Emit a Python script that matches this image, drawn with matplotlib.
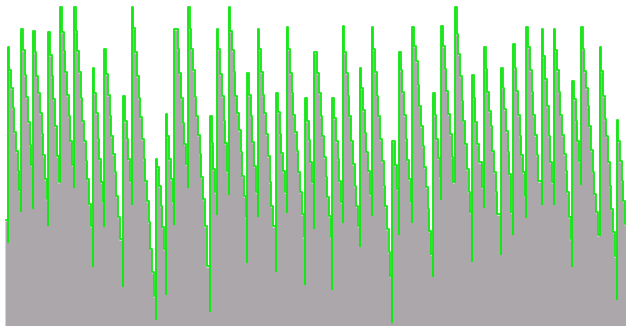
import matplotlib
matplotlib.use("Agg")
import matplotlib.pyplot as plt
import matplotlib.transforms as mtransforms
import numpy as np

# one list per sawtooth cycle (level of each sample), arbitrary units
cycles = [
    [105],
    [278, 255, 237, 217, 193, 174, 154, 135],
    [296, 275, 250, 228, 203, 180, 160],
    [294, 273, 249, 232, 212, 191, 170, 146, 126],
    [293, 270, 249, 226, 199, 169, 143],
    [318, 293, 274, 253, 230, 209, 184, 160],
    [318, 294, 274, 253, 227, 204, 184, 164, 146, 121, 99],
    [257, 232, 212, 186, 166, 143, 123],
    [276, 251, 230, 209, 189, 171, 153, 129, 108, 86, 86],
    [229, 204, 186, 166, 144],
    [318, 297, 273, 249, 227, 208, 186, 166, 144, 124, 103, 76, 53, 29],
    [166, 158, 139, 119, 98, 76],
    [211, 189, 166, 146, 123],
    [296, 296, 276, 252, 227, 202, 181, 161],
    [318, 296, 276, 255, 228, 209, 190, 171, 148, 126, 99, 59, 59],
    [209, 182, 156, 133],
    [296, 276, 251, 229, 204, 182, 154],
    [318, 294, 275, 253, 229, 212, 195, 173, 149, 129, 108],
    [252, 230, 209, 183, 159, 133],
    [296, 276, 253, 230, 212, 191, 169, 143, 119, 99, 99],
    [232, 213, 191, 172, 154, 133],
    [298, 276, 252, 232, 210, 193, 174, 153, 133, 111, 88],
    [227, 204, 185, 163, 143],
    [273, 273, 252, 232, 209, 189, 168, 148, 128, 109, 88],
    [227, 207, 184, 166, 144, 123],
    [299, 273, 252, 229, 209, 184, 161, 139, 119, 99],
    [257, 237, 215, 192, 173, 154, 131],
    [298, 276, 253, 229, 209, 186, 164, 139, 119, 96, 73, 49],
    [184, 184, 160, 136],
    [273, 255, 233, 210, 186, 165, 146, 123],
    [298, 279, 264, 240, 219, 199, 179, 158, 138, 116, 94, 71],
    [232, 210, 186, 167, 148],
    [299, 279, 256, 234, 211, 191, 168, 143],
    [318, 291, 271, 249, 224, 204, 181, 156, 133, 113],
    [250, 227, 203, 181, 163, 163, 138],
    [278, 256, 233, 214, 199, 174, 153, 133, 111, 111],
    [257, 237, 216, 194, 173, 151, 113],
    [281, 257, 234, 210, 189, 170, 153, 129],
    [298, 278, 255, 233, 210, 190, 170, 144, 144],
    [296, 269, 246, 219, 189, 163, 143],
    [296, 275, 255, 233, 210, 190, 171, 154, 133, 108, 86],
    [244, 226, 204, 184, 164],
    [298, 276, 254, 237, 219, 199, 175, 153, 131, 113, 90],
    [278, 254, 229, 206, 189, 163, 139, 116, 93, 69],
    [205, 184, 164, 144, 124, 101],
]

# short minimum reached between two cycles
dips = [83, 114, 117, 100, 143, 138, 59, 99, 39, 121, 6, 31, 101, 138, 14,
        111, 131, 63, 109, 54, 113, 41, 97, 36, 103, 79, 110, 3, 91, 103, 49,
        126, 143, 64, 118, 71, 91, 108, 121, 121, 59, 141, 90, 26]

levels = np.concatenate([np.array(c, dtype=float) for c in cycles])
n = len(levels)
x_fill = np.arange(n + 1)
y_fill = np.append(levels, levels[-1])

lx, ly = [], []
pos = 0
for k, c in enumerate(cycles):
    for j, v in enumerate(c):
        lx.append(pos + j)
        ly.append(v)
    pos += len(c)
    if k < len(dips):
        lx.append(pos)
        ly.append(dips[k])
lx.append(pos)
ly.append(cycles[-1][-1])

fig = plt.figure(figsize=(6.26, 3.26), dpi=100)
ax = fig.add_axes([0, 0, 1, 1])
ax.axis("off")

ax.fill_between(x_fill, y_fill, step="post", color="#aba7ab", lw=0)
shifted = mtransforms.offset_copy(ax.transData, fig=fig, x=0.8, y=0.8, units="dots")
ax.step(lx, ly, where="post", color="#12e812", lw=1.3, transform=shifted)

ax.set_xlim(-n * 5 / 621, n)
ax.set_ylim(0, 326)

fig.savefig("out.png", dpi=100, facecolor="white")
